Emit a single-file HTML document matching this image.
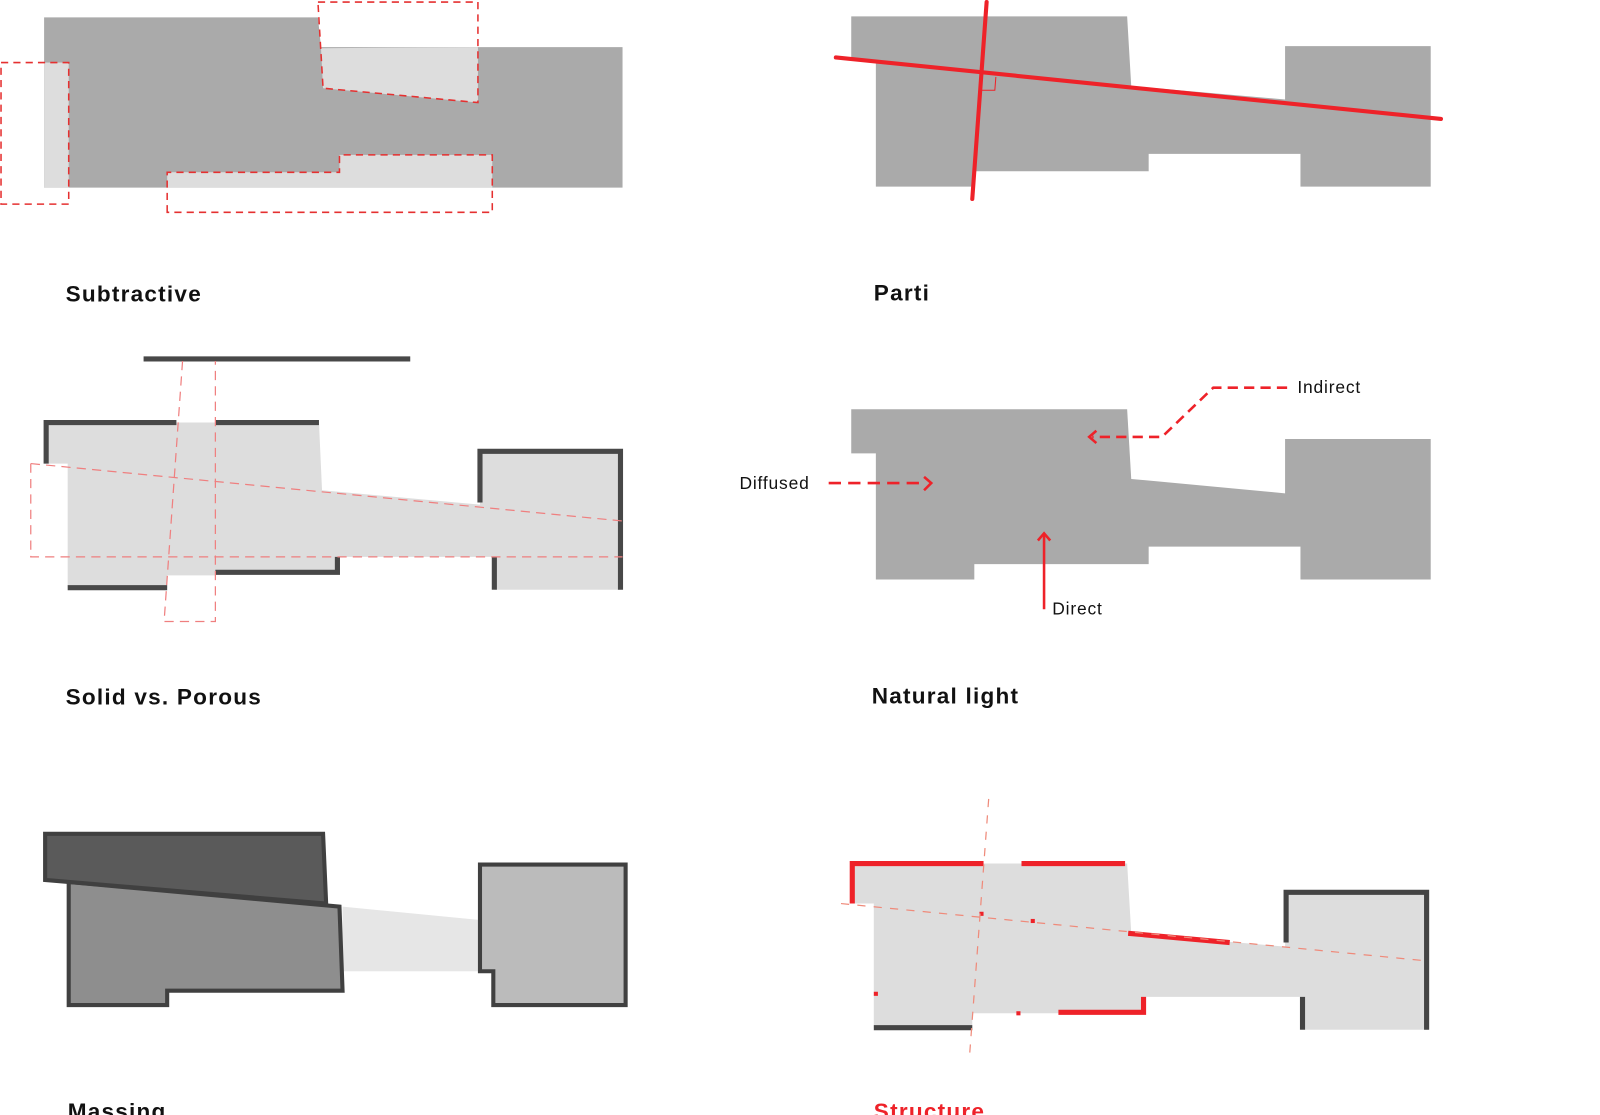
<!DOCTYPE html>
<html><head><meta charset="utf-8"><style>
html,body{margin:0;padding:0;background:#fff;width:1600px;height:1115px;overflow:hidden}
svg{display:block}
text{font-family:"Liberation Sans",sans-serif}
.lbl{font-size:22px;font-weight:bold;letter-spacing:1.2px;fill:#111}
.sm{font-size:17px;letter-spacing:0.8px;fill:#111}
</style></head><body>
<svg width="1600" height="1115" viewBox="0 0 1600 1115">
<g transform="scale(1.0256)">
<!-- Subtractive -->
<g>
<polygon points="43,17 310,17 313,46 607,46 607,183 43,183" fill="#aaa"/>
<rect x="43" y="61" width="24" height="122" fill="#ddd"/>
<polygon points="313,47 466,46 466,100 315,86" fill="#ddd"/>
<polygon points="163,168 331,168 331,151 480,151 480,183 163,183" fill="#ddd"/>
<g fill="none" stroke="#e53030" stroke-width="1.5" stroke-dasharray="7,5">
<polygon points="1,61 67,61 67,199 1,199"/>
<polygon points="310,2 466,2 466,100 315,86"/>
<polygon points="163,207 163,168 331,168 331,151 480,151 480,207"/>
</g>
</g>
<text class="lbl" x="64" y="294">Subtractive</text>

<g transform="translate(-5,-1)">
<!-- Parti -->
<g>
<polygon points="835,17 1104,17 1108,85 1258,98 1258,46 1400,46 1400,183 1273,183 1273,151 1125,151 1125,168 955,168 955,183 859,183 859,60 835,60" fill="#aaa"/>
<line x1="820" y1="57" x2="1410" y2="117" stroke="#ee2229" stroke-width="4" stroke-linecap="round"/>
<line x1="967" y1="3" x2="953" y2="195" stroke="#ee2229" stroke-width="4" stroke-linecap="round"/>
<polyline points="962,74 962,89 975,89 976,76" fill="none" stroke="#ee2229" stroke-width="1"/>
</g>
<text class="lbl" x="857" y="294">Parti</text>

<!-- Natural light -->
<g>
<polygon points="835,400 1104,400 1108,468 1258,482 1258,429 1400,429 1400,566 1273,566 1273,534 1125,534 1125,551 955,551 955,566 859,566 859,443 835,443" fill="#aaa"/>
<g fill="none" stroke="#ee2229" stroke-width="2.5">
<line x1="813" y1="472" x2="908" y2="472" stroke-dasharray="12,7"/>
<polyline points="906,466 913,472 906,479"/>
<polyline points="1260,379 1188,379 1138,427 1070,427" stroke-dasharray="10,6"/>
<polyline points="1074,421 1067,427 1074,433"/>
<line x1="1023" y1="595" x2="1023" y2="522"/>
<polyline points="1017,528 1023,521 1029,528"/>
</g>
<text class="sm" x="726" y="478">Diffused</text>
<text class="sm" x="1270" y="384">Indirect</text>
<text class="sm" x="1031" y="600">Direct</text>
</g>
<text class="lbl" x="855" y="687">Natural light</text>

<!-- Structure -->
<g>
<polygon points="835,843 1104,843 1108,911 1258,924 1258,871 1397,871 1397,1005 1273,1005 1273,973 1122,973 1122,989 953,989 953,1003 857,1003 857,882 835,882" fill="#ddd"/>
<g fill="none" stroke-width="5">
<polyline points="836,882 836,843 964,843" stroke="#ee2229"/>
<line x1="1001" y1="843" x2="1102" y2="843" stroke="#ee2229"/>
<line x1="1105" y1="911" x2="1204" y2="920" stroke="#ee2229"/>
<polyline points="1037,988 1120,988 1120,973" stroke="#ee2229"/>
<line x1="857" y1="1003" x2="953" y2="1003" stroke="#444"/>
<polyline points="1259,920 1259,871 1396,871 1396,1005" stroke="#444"/>
<line x1="1275" y1="973" x2="1275" y2="1005" stroke="#444"/>
</g>
<g fill="#ee2229">
<rect x="960" y="890" width="4" height="4"/><rect x="1010" y="897" width="4" height="4"/>
<rect x="857" y="968" width="4" height="4"/><rect x="996" y="987" width="4" height="4"/>
</g>
<g fill="none" stroke="#ef8a7a" stroke-width="1.2" stroke-dasharray="8,8">
<line x1="825" y1="882" x2="1397" y2="938"/>
<line x1="969" y1="780" x2="950" y2="1035"/>
</g>
</g>
<text class="lbl" x="857" y="1092" style="fill:#ee2229">Structure</text>
</g>

<!-- Solid vs Porous -->
<g>
<polygon points="44,412 311,412 314,478 468,492 468,440 605,440 605,575 482,575 482,543 329,543 329,558 210,558 210,561 163,561 163,573 66,573 66,452 44,452" fill="#ddd"/>
<g fill="none" stroke="#484848" stroke-width="5">
<polyline points="45,452 45,412 172,412"/>
<line x1="210" y1="412" x2="311" y2="412"/>
<line x1="66" y1="573" x2="163" y2="573"/>
<polyline points="210,558 329,558 329,543"/>
<polyline points="468,490 468,440 605,440 605,575"/>
<line x1="482" y1="543" x2="482" y2="575"/>
<line x1="140" y1="350" x2="400" y2="350"/>
</g>
<g fill="none" stroke="#ef7f7f" stroke-width="1.2" stroke-dasharray="9,6">
<polyline points="30,452 30,543 607,543"/>
<line x1="30" y1="452" x2="607" y2="508"/>
<polyline points="178,352 160,606 210,606 210,352"/>
</g>
</g>
<text class="lbl" x="64" y="687">Solid vs. Porous</text>

<!-- Massing -->
<g stroke="#404040" stroke-width="4">
<polygon points="334,884 468,897 468,947 334,947" fill="#e6e6e6" stroke="none"/>
<polygon points="67,860 331,884 334,966 163,966 163,980 67,980" fill="#8e8e8e"/>
<polygon points="44,813 315,813 318,881 44,858" fill="#5a5a5a"/>
<polygon points="468,843 610,843 610,980 481,980 481,947 468,947" fill="#bbb"/>
</g>
<text class="lbl" x="66" y="1091">Massing</text>
</g>
</svg>
</body></html>
